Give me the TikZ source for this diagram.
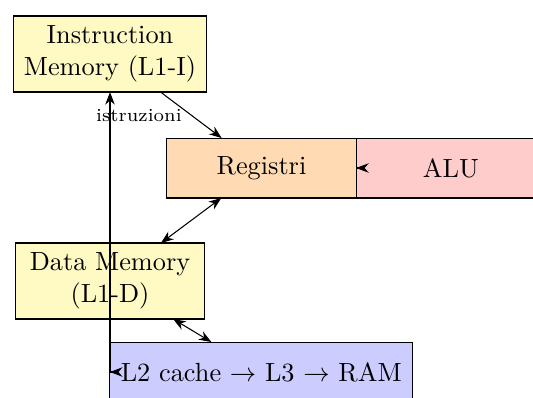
\documentclass[tikz,border=0pt]{standalone}
\usetikzlibrary{arrows.meta}
\definecolor{memyellow}{RGB}{255,249,196}
\definecolor{regorange}{RGB}{255,218,179}
\definecolor{alured}{RGB}{255,204,204}
\definecolor{cacheblue}{RGB}{204,204,255}
\begin{document}
\begin{tikzpicture}[x=0.3802pt,y=-0.3802pt,
  box/.style={draw=black, minimum height=22.8pt, align=center, inner sep=3.33pt, outer sep=0pt},
  conn/.style={-{Stealth}, black},
  biconn/.style={{Stealth}-{Stealth}, black},
  lbl/.style={font=\scriptsize}
]
\useasboundingbox (0,0) rectangle (533,397);
\clip (0,0) rectangle (533,397);
\node[box, fill=memyellow, minimum width=73.4pt, minimum height=28.9pt] (IM) at (110,54) {Instruction\\Memory (L1-I)};
\node[box, fill=regorange, minimum width=71.9pt] (REG) at (261.5,168) {Registri};
\node[box, fill=alured, minimum width=71.9pt] (ALU) at (450.8,168) {ALU};
\node[box, fill=memyellow, minimum width=71.5pt, minimum height=28.9pt] (DM) at (110,281) {Data Memory\\(L1-D)};
\node[box, fill=cacheblue, minimum width=115.05pt, inner xsep=2pt] (L2) at (261.2,372) {L2 cache $\rightarrow$ L3 $\rightarrow$ RAM};
\draw[conn] (IM) -- node[midway,left,lbl]{istruzioni} (REG);
\draw[biconn] (REG) -- (DM);
\draw[conn] (ALU) -- (REG);
\draw[biconn] (DM) -- (L2);
\draw[biconn] (L2) -| (IM);
\end{tikzpicture}
\end{document}
